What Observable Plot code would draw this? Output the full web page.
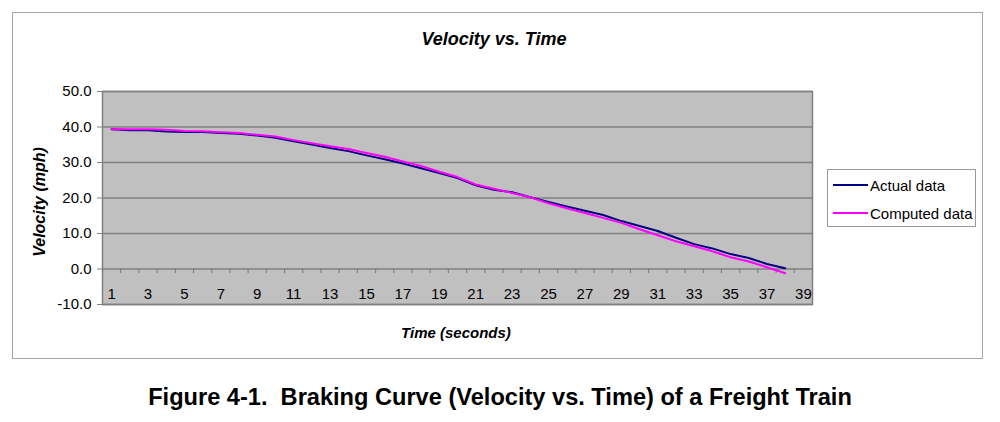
<!DOCTYPE html>
<html>
<head>
<meta charset="utf-8">
<script src="https://cdn.jsdelivr.net/npm/d3@7"></script>
<script src="https://cdn.jsdelivr.net/npm/@observablehq/plot@0.6"></script>
<style>
  body { margin: 0; background: #fff; font-family: "Liberation Sans", Arial, sans-serif; color: #000; }
  #page { position: relative; width: 1000px; height: 422px; overflow: hidden; }
  #box { position: absolute; left: 12px; top: 12px; width: 971px; height: 347px; border: 1px solid #a6a6a6; box-sizing: border-box; }
  #chart { position: absolute; left: 0; top: 0; }
  .ttl { position: absolute; font-weight: bold; font-style: italic; white-space: nowrap; }
  #title { left: 0; width: 988px; top: 29px; text-align: center; font-size: 18px; }
  #xtitle { left: 0; width: 912px; top: 324px; text-align: center; font-size: 15px; }
  #ytitle { left: 40px; top: 202px; font-size: 16px; transform: translate(-50%, -50%) rotate(-90deg); }
  #legend { position: absolute; left: 827px; top: 169px; width: 149px; height: 58px; border: 1px solid #999; background: #fff; box-sizing: border-box; font-size: 15px; }
  .row { position: absolute; left: 5px; height: 18px; display: flex; align-items: center; }
  .sw { width: 35px; margin-right: 2px; }
  #caption { position: absolute; left: 0; width: 1000px; top: 384px; text-align: center; font-weight: bold; font-size: 23.6px; white-space: pre; }
</style>
</head>
<body>
<div id="page">
  <div id="box"></div>
  <div id="title" class="ttl">Velocity vs. Time</div>
  <div id="xtitle" class="ttl">Time (seconds)</div>
  <div id="ytitle" class="ttl">Velocity (mph)</div>
  <div id="chart"></div>
  <div id="legend"></div>
  <div id="caption">Figure 4-1.  Braking Curve (Velocity vs. Time) of a Freight Train</div>
</div>
<script>
// Time categories (seconds) shown along the horizontal axis
const seconds = [1, 2, 3, 4, 5, 6, 7, 8, 9, 10, 11, 12, 13, 14, 15, 16, 17, 18, 19, 20,
                 21, 22, 23, 24, 25, 26, 27, 28, 29, 30, 31, 32, 33, 34, 35, 36, 37, 38, 39];

// Labelled seconds on the time axis
const secondLabels = [1, 3, 5, 7, 9, 11, 13, 15, 17, 19, 21, 23, 25, 27, 29, 31, 33, 35, 37, 39];

// Velocity axis ticks (mph)
const velocityTicks = [-10, 0, 10, 20, 30, 40, 50];

// Series names
const seriesNames = ["Actual data", "Computed data"];
const seriesColors = ["#000080", "#ff00ff"];

// Measured velocity (mph), one value per second 1..38
const actualMph = [39.4, 39.1, 39.1, 38.7, 38.6, 38.6, 38.3, 38.1, 37.6, 37.0,
                   36.0, 35.1, 34.1, 33.2, 32.0, 30.9, 29.7, 28.4, 27.0, 25.6,
                   23.6, 22.3, 21.6, 20.2, 18.9, 17.6, 16.4, 15.2, 13.5, 12.1,
                   10.7, 8.8, 7.0, 5.8, 4.2, 3.1, 1.4, 0.2];

// Computed velocity (mph), one value per second 1..38
const computedMph = [39.4, 39.4, 39.4, 39.2, 38.9, 38.8, 38.5, 38.3, 37.8, 37.3,
                     36.3, 35.4, 34.6, 33.8, 32.7, 31.6, 30.3, 29.0, 27.4, 25.9,
                     23.8, 22.6, 21.4, 20.2, 18.5, 17.1, 15.8, 14.4, 13.0, 11.2,
                     9.5, 7.8, 6.4, 5.0, 3.3, 2.1, 0.5, -1.2];

const rows = [
  ...actualMph.map((v, i) => ({t: seconds[i], v, s: seriesNames[0]})),
  ...computedMph.map((v, i) => ({t: seconds[i], v, s: seriesNames[1]}))
];

// Category boundaries: tick marks sit between seconds on the zero line
const boundaries = [seconds[0] - 0.5, ...seconds.map(t => t + 0.5)];

const plot = Plot.plot({
  width: 1000,
  height: 360,
  marginLeft: 102,
  marginRight: 188,
  marginTop: 91,
  marginBottom: 56,
  style: {background: "transparent", fontFamily: "'Liberation Sans', Arial, sans-serif", fontSize: "15px", color: "#000", overflow: "visible"},
  x: {domain: [seconds[0] - 0.5, seconds[seconds.length - 1] + 0.5]},
  y: {domain: [velocityTicks[0], velocityTicks[velocityTicks.length - 1]]},
  color: {domain: seriesNames, range: seriesColors},
  marks: [
    Plot.frame({fill: "#c0c0c0", stroke: null}),
    Plot.gridY(velocityTicks, {stroke: "#808080", strokeOpacity: 1, strokeWidth: 1.5}),
    Plot.frame({stroke: "#808080", strokeWidth: 1.5}),
    Plot.ruleX(boundaries, {x: d => d, y1: 0, y2: -1.3, stroke: "#808080", strokeWidth: 1.2}),
    Plot.axisY(velocityTicks, {tickFormat: d => d.toFixed(1), tickSize: 5, tickPadding: 6, stroke: "#808080", fill: "#000", label: null}),
    Plot.axisX(secondLabels, {tickSize: 0, tickPadding: -16, fill: "#000", label: null}),
    Plot.line(rows, {x: "t", y: "v", z: "s", stroke: "s", strokeWidth: 2})
  ]
});
document.getElementById("chart").append(plot);

// Legend
const legend = document.getElementById("legend");
seriesNames.forEach((name, i) => {
  const row = document.createElement("div");
  row.className = "row";
  row.style.top = (i === 0 ? 6 : 34) + "px";
  const sw = document.createElement("div");
  sw.className = "sw";
  sw.style.borderTop = "2px solid " + seriesColors[i];
  const label = document.createElement("span");
  label.textContent = name;
  row.append(sw, label);
  legend.append(row);
});
</script>
</body>
</html>
